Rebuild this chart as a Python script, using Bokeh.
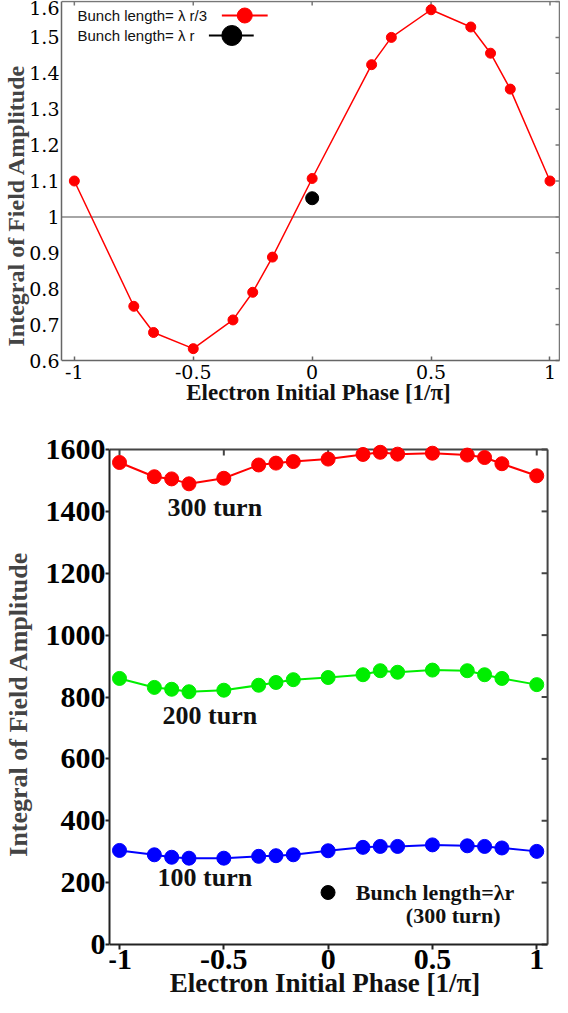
from bokeh.plotting import figure
from bokeh.models import Range1d, FixedTicker, LinearAxis, Label
from bokeh.layouts import column
from bokeh.embed import file_html
from bokeh.resources import INLINE

# ---------------- data ----------------
# top panel: bunch length = lambda_r / 3
TOP_X = [-1, -0.75, -0.667, -0.5, -0.333, -0.25, -0.167, 0, 0.25, 0.333, 0.5, 0.667, 0.75, 0.833, 1]
TOP_Y = [1.100, 0.751, 0.678, 0.633, 0.713, 0.790, 0.888, 1.107, 1.424, 1.500, 1.577, 1.529, 1.456, 1.356, 1.100]
# top panel: bunch length = lambda_r
TOP_BLACK_X = [0]
TOP_BLACK_Y = [1.052]
TOP_REF = 1.0

TOP_XTICKS = [-1, -0.5, 0, 0.5, 1]
TOP_XLABELS = ["-1", "-0.5", "0", "0.5", "1"]
TOP_YTICKS = [0.6, 0.7, 0.8, 0.9, 1, 1.1, 1.2, 1.3, 1.4, 1.5, 1.6]
TOP_YLABELS = ["0.6", "0.7", "0.8", "0.9", "1", "1.1", "1.2", "1.3", "1.4", "1.5", "1.6"]

# bottom panel
BOT_X = [-1, -0.833, -0.75, -0.667, -0.5, -0.333, -0.25, -0.167, 0, 0.167, 0.25, 0.333, 0.5, 0.667, 0.75, 0.833, 1]
TURN300 = [1558, 1512, 1505, 1489, 1507, 1550, 1556, 1561, 1569, 1584, 1591, 1585, 1588, 1582, 1574, 1554, 1515]
TURN200 = [860, 831, 825, 817, 822, 838, 847, 856, 863, 872, 885, 880, 887, 885, 872, 860, 840]
TURN100 = [304, 290, 282, 279, 279, 285, 287, 290, 303, 314, 317, 317, 322, 319, 317, 312, 301]
SERIES_NAMES = ["300 turn", "200 turn", "100 turn"]

BOT_XTICKS = [-1, -0.5, 0, 0.5, 1]
BOT_XLABELS = ["-1", "-0.5", "0", "0.5", "1"]
BOT_YTICKS = [0, 200, 400, 600, 800, 1000, 1200, 1400, 1600]

XLABEL = "Electron Initial Phase [1/\u03c0]"
YLABEL = "Integral of Field Amplitude"

SERIF = "Liberation Serif"


def style_axis(ax, ticks, labels, font_size, font, style, line_color, lw, tin, tout, standoff):
    ax.ticker = FixedTicker(ticks=ticks)
    if labels is not None:
        ax.major_label_overrides = {t: l for t, l in zip(ticks, labels)}
    ax.minor_tick_line_color = None
    ax.major_tick_in = tin
    ax.major_tick_out = tout
    ax.axis_line_color = line_color
    ax.axis_line_width = lw
    ax.major_tick_line_color = line_color
    ax.major_tick_line_width = lw
    ax.major_label_text_font = font
    ax.major_label_text_font_style = style
    ax.major_label_text_color = "black"
    ax.major_label_text_font_size = font_size
    ax.major_label_standoff = standoff


def mapper(x0, x1, y0, y1, fx0, fx1, fy0, fy1):
    """page pixel -> data conversion (box edges fx0..fx1 / fy0..fy1 hold x0..x1 / y1..y0)"""
    def mx(px):
        return x0 + (px - fx0) * (x1 - x0) / (fx1 - fx0)
    def my(py):
        return y1 - (py - fy0) * (y1 - y0) / (fy1 - fy0)
    return mx, my


PAGE = 8          # body margin
W = 560
H1, H2 = 410, 587

# ================= top figure =================
TX0, TX1, TY0, TY1 = -1.054, 1.040, 0.6, 1.6
T_BOX = (67, 567, 9, 368)        # plot box on the page: left, right, top, bottom
t_px, t_py = mapper(TX0, TX1, TY0, TY1, *T_BOX)
T_LEFT = T_BOX[0] - PAGE

p1 = figure(width=W, height=H1,
            x_range=Range1d(TX0, t_px(PAGE + W)),
            y_range=Range1d(t_py(PAGE + H1), t_py(PAGE)),
            output_backend="svg", toolbar_location=None,
            min_border_left=T_LEFT, min_border_right=0, min_border_top=0, min_border_bottom=0,
            x_axis_location=None, y_axis_location=None)
p1.frame_align = False
p1.outline_line_color = None
p1.grid.visible = False
p1.background_fill_color = "white"
p1.border_fill_color = "white"

yl = LinearAxis(axis_label=YLABEL, bounds=(TY0, TY1))
style_axis(yl, TOP_YTICKS, TOP_YLABELS, "19px", "DejaVu Serif", "normal", "#666666", 1.5, 0, 0, 2)
yl.axis_label_standoff = -3
yl.axis_label_text_font = SERIF
yl.axis_label_text_font_style = "bold"
yl.axis_label_text_font_size = "24px"
p1.add_layout(yl, "left")

xb = LinearAxis(fixed_location=TY0, bounds=(TX0, TX1))
style_axis(xb, TOP_XTICKS, TOP_XLABELS, "19px", "DejaVu Serif", "normal", "#666666", 1.5, 4, 0, 4)
p1.add_layout(xb, "below")

# top / right edges of the box with inward ticks
p1.segment(x0=[TX0], y0=[TY1], x1=[TX1], y1=[TY1], line_color="#777777", line_width=1.5)
p1.segment(x0=[TX1], y0=[TY0], x1=[TX1], y1=[TY1], line_color="#777777", line_width=1.5)
p1.segment(x0=TOP_XTICKS, y0=[TY1] * len(TOP_XTICKS), x1=TOP_XTICKS,
           y1=[t_py(T_BOX[2] + 4)] * len(TOP_XTICKS), line_color="#777777", line_width=1.5)
p1.segment(x0=[TX1] * len(TOP_YTICKS), y0=TOP_YTICKS, x1=[t_px(T_BOX[1] - 4)] * len(TOP_YTICKS),
           y1=TOP_YTICKS, line_color="#777777", line_width=1.5)

p1.segment(x0=[TX0], y0=[TOP_REF], x1=[TX1], y1=[TOP_REF], line_color="#888888", line_width=1.5)
p1.line(TOP_X, TOP_Y, line_color="#ff0000", line_width=1.5)
p1.scatter(TOP_X, TOP_Y, size=10, fill_color="#ff0000", line_color="#ff0000")
p1.scatter(TOP_BLACK_X, TOP_BLACK_Y, size=13, fill_color="black", line_color="black")

p1.add_layout(Label(x=t_px(325), y=t_py(400), text=XLABEL, text_align="center", text_baseline="middle",
                    text_font=SERIF, text_font_style="bold", text_font_size="23px", text_color="#111111"))

LEG_TXT = ["Bunch length= \u03bb r/3", "Bunch length= \u03bb r"]
p1.add_layout(Label(x=t_px(83), y=t_py(23), text=LEG_TXT[0], text_font="Liberation Sans",
                    text_font_size="15px", text_baseline="middle", text_color="#111111"))
p1.add_layout(Label(x=t_px(83), y=t_py(43), text=LEG_TXT[1], text_font="Liberation Sans",
                    text_font_size="15px", text_baseline="middle", text_color="#111111"))
p1.line([t_px(228), t_px(274)], [t_py(23), t_py(23)], line_color="#ff0000", line_width=2)
p1.scatter([t_px(251)], [t_py(23)], size=15, fill_color="#ff0000", line_color="#ff0000")
p1.line([t_px(215), t_px(260)], [t_py(43), t_py(43)], line_color="black", line_width=2)
p1.scatter([t_px(238)], [t_py(43)], size=20, fill_color="black", line_color="black")

# ================= bottom figure =================
BX0, BX1, BY0, BY1 = -1.048, 1.052, 0, 1600
B_BOX = (114, 555, 457, 952)
b_px, b_py = mapper(BX0, BX1, BY0, BY1, *B_BOX)
B_LEFT = B_BOX[0] - PAGE
TOP2 = PAGE + H1

p2 = figure(width=W, height=H2,
            x_range=Range1d(BX0, b_px(PAGE + W)),
            y_range=Range1d(b_py(TOP2 + H2), b_py(TOP2)),
            output_backend="svg", toolbar_location=None,
            min_border_left=B_LEFT, min_border_right=0, min_border_top=0, min_border_bottom=0,
            x_axis_location=None, y_axis_location=None)
p2.frame_align = False
p2.outline_line_color = None
p2.grid.visible = False
p2.background_fill_color = "white"
p2.border_fill_color = "white"

byl = LinearAxis(axis_label=YLABEL, bounds=(BY0, BY1))
style_axis(byl, BOT_YTICKS, None, "30px", SERIF, "bold", "#222222", 2, 0, 4, 0)
byl.axis_label_standoff = 10
byl.axis_label_text_font = SERIF
byl.axis_label_text_font_style = "bold"
byl.axis_label_text_font_size = "26px"
p2.add_layout(byl, "left")

bxb = LinearAxis(fixed_location=BY0, bounds=(BX0, BX1))
style_axis(bxb, BOT_XTICKS, BOT_XLABELS, "30px", SERIF, "bold", "#222222", 2, 0, 5, 0)
p2.add_layout(bxb, "below")

p2.segment(x0=[BX0], y0=[BY1], x1=[BX1], y1=[BY1], line_color="#444444", line_width=2)
p2.segment(x0=[BX1], y0=[BY0], x1=[BX1], y1=[BY1], line_color="#444444", line_width=2)
p2.segment(x0=BOT_XTICKS, y0=[BY1] * len(BOT_XTICKS), x1=BOT_XTICKS,
           y1=[b_py(B_BOX[2] + 6)] * len(BOT_XTICKS), line_color="#444444", line_width=2)
p2.segment(x0=[BX1] * len(BOT_YTICKS), y0=BOT_YTICKS, x1=[b_px(B_BOX[1] - 6)] * len(BOT_YTICKS),
           y1=BOT_YTICKS, line_color="#444444", line_width=2)

for ys, col in zip([TURN300, TURN200, TURN100], ["#ff0000", "#00ee00", "#0000ff"]):
    p2.line(BOT_X, ys, line_color=col, line_width=2)
    p2.scatter(BOT_X, ys, size=14, fill_color=col, line_color=col)

for name, (lx, ly) in zip(SERIES_NAMES, [(220, 515), (215, 723), (210, 885)]):
    p2.add_layout(Label(x=b_px(lx), y=b_py(ly), text=name, text_align="center", text_baseline="middle",
                        text_font=SERIF, text_font_style="bold", text_font_size="26px", text_color="#111111"))

p2.scatter([b_px(334)], [b_py(900)], size=14, fill_color="black", line_color="black")
p2.add_layout(Label(x=b_px(362), y=b_py(900), text="Bunch length=\u03bbr", text_baseline="middle",
                    text_font=SERIF, text_font_style="bold", text_font_size="22px", text_color="#111111"))
p2.add_layout(Label(x=b_px(460), y=b_py(923), text="(300 turn)", text_baseline="middle", text_align="center",
                    text_font=SERIF, text_font_style="bold", text_font_size="22px", text_color="#111111"))

p2.add_layout(Label(x=b_px(331), y=b_py(990), text=XLABEL, text_align="center", text_baseline="middle",
                    text_font=SERIF, text_font_style="bold", text_font_size="27px", text_color="#111111"))

layout = column(p1, p2, spacing=0)
open("out.html", "w").write(file_html(layout, INLINE))
